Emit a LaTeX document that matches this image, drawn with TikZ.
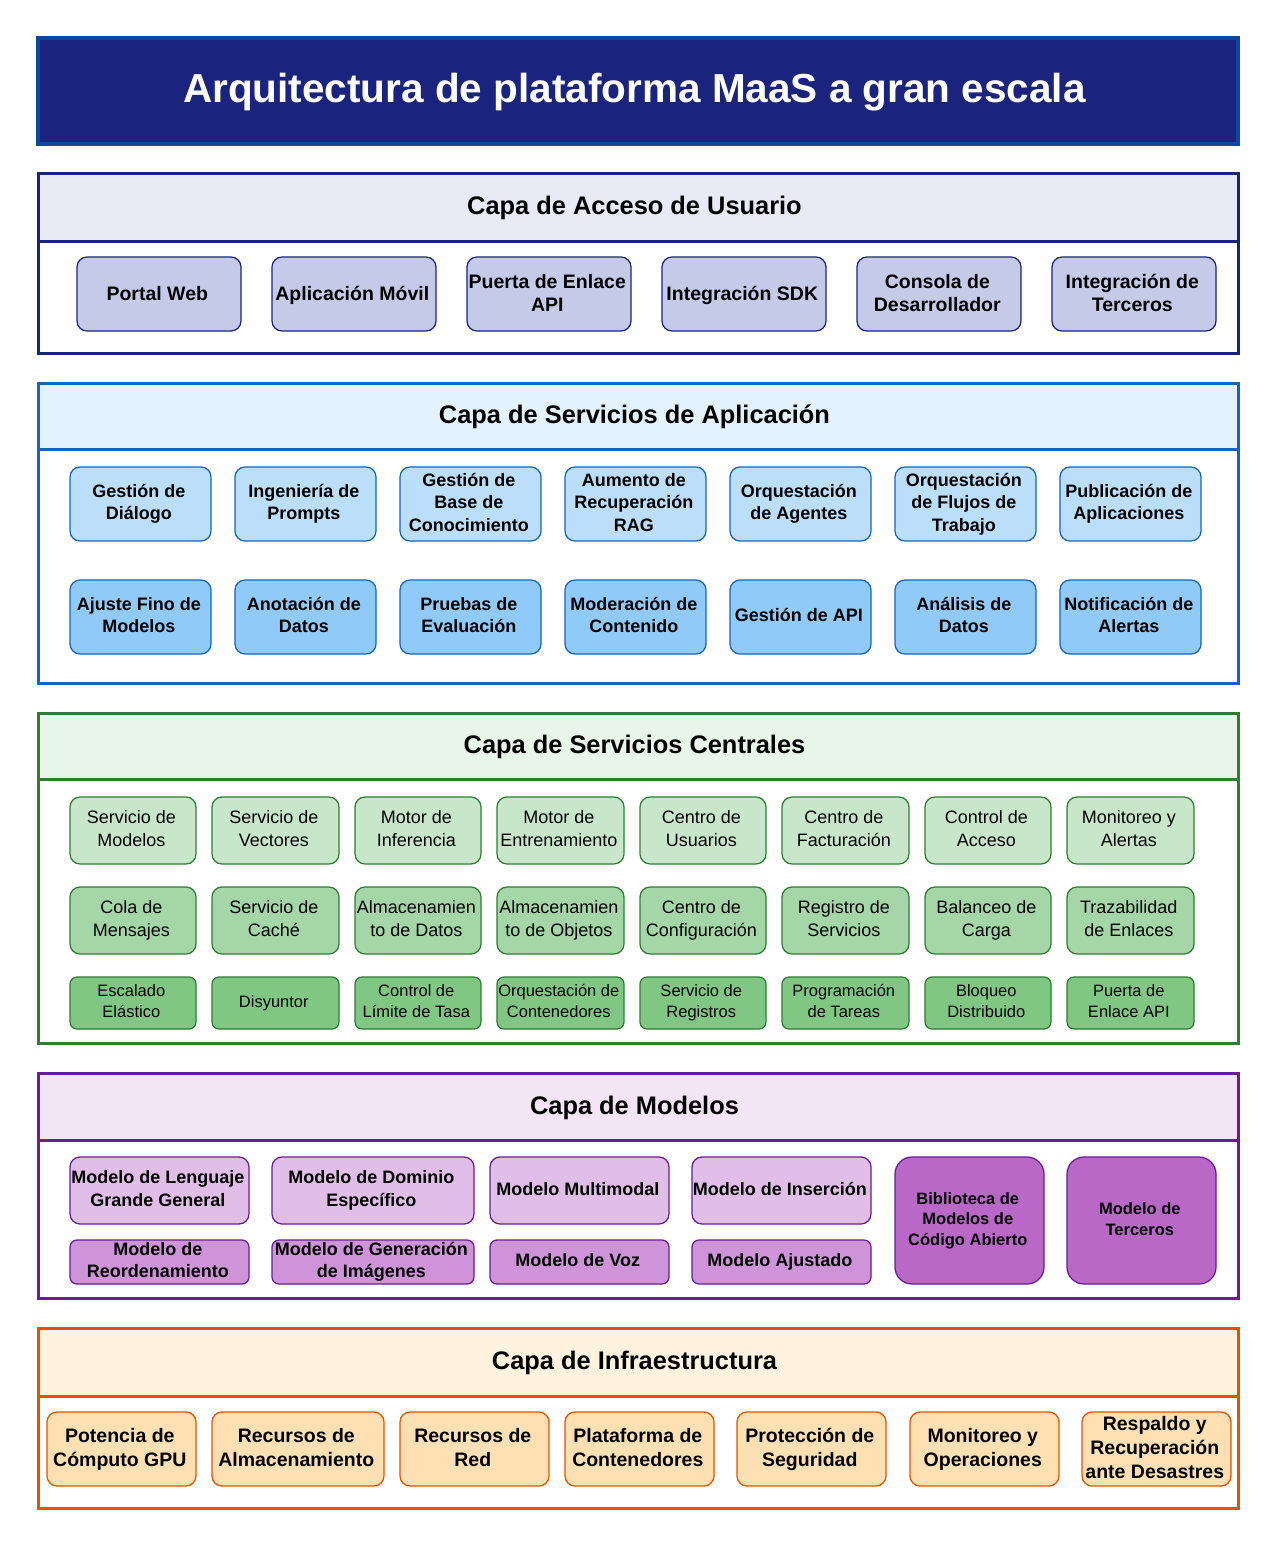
\documentclass[tikz,border=0pt]{standalone}
\usepackage{fontspec}
\setmainfont{Liberation Sans}
\definecolor{navyS}{HTML}{0D47A1}\definecolor{navyF}{HTML}{1A237E}
\definecolor{iS}{HTML}{1A237E}\definecolor{iH}{HTML}{E8EAF6}\definecolor{iA}{HTML}{C5CAE9}
\definecolor{bS}{HTML}{1565C0}\definecolor{bH}{HTML}{E3F2FD}\definecolor{bA}{HTML}{BBDEFB}\definecolor{bB}{HTML}{90CAF9}
\definecolor{gS}{HTML}{2E7D32}\definecolor{gH}{HTML}{E8F5E9}\definecolor{gA}{HTML}{C8E6C9}\definecolor{gB}{HTML}{A5D6A7}\definecolor{gC}{HTML}{81C784}
\definecolor{pS}{HTML}{6A1B9A}\definecolor{pH}{HTML}{F3E5F5}\definecolor{pA}{HTML}{E1BEE7}\definecolor{pB}{HTML}{CE93D8}\definecolor{pC}{HTML}{BA68C8}
\definecolor{oS}{HTML}{E65100}\definecolor{oH}{HTML}{FFF3E0}\definecolor{oA}{HTML}{FFE0B2}
\def\tdx{-1.7}\def\tdy{0}
\newcommand{\bx}[7]{%
  \pgfmathsetmacro{\cxv}{(#3+#5)/2}\pgfmathsetmacro{\cyv}{(#4+#6)/2}%
  \pgfmathsetmacro{\wv}{#5-#3}\pgfmathsetmacro{\hv}{#6-#4}%
  \node[#2,minimum width=\wv pt,minimum height=\hv pt] (#1) at (\cxv,\cyv) {};
  \node[#2,draw=none,fill=none,xshift=\tdx pt,yshift=\tdy pt] (#1t) at (#1.center)
    {\rule[-.21em]{0pt}{.93em}#7\rule[-.21em]{0pt}{.93em}};}
\newcommand{\hx}[7]{\def\tdx{-3.5}\def\tdy{-1}\bx{#1}{#2}{#3}{#4}{#5}{#6}{#7}\def\tdx{-1.7}\def\tdy{0}}
\tikzset{
  x=1pt,y=-1pt,
  anynode/.style={inner sep=0pt,outer sep=0pt,align=center,text=black},
  titlebox/.style={anynode,draw=navyS,fill=navyF,line width=4pt,text=white,font=\fontsize{40.5}{46}\selectfont\bfseries},
  layerbox/.style={anynode,line width=3pt,fill=white},
  headbox/.style={anynode,line width=3pt,font=\fontsize{25.4}{30}\selectfont\bfseries},
  item/.style={anynode,line width=1.25pt,rounded corners=10pt},
  strongL/.style={item,font=\fontsize{19.5}{23.3}\selectfont\bfseries},
  strongO/.style={item,font=\fontsize{19.5}{24.2}\selectfont\bfseries},
  strongM/.style={item,font=\fontsize{18}{22.4}\selectfont\bfseries},
  plain/.style={item,font=\fontsize{18}{22.3}\selectfont},
  small/.style={item,rounded corners=7pt,font=\fontsize{16.5}{21}\selectfont},
  boldsmall/.style={item,rounded corners=17pt,font=\fontsize{16.5}{20.5}\selectfont\bfseries},
  tight/.style={rounded corners=7pt},
}
\begin{document}
\begin{tikzpicture}
\useasboundingbox (0,0) rectangle (1275,1545);
\hx{title}{titlebox}{38}{38}{1238}{144}{Arquitectura de plataforma MaaS a gran escala}
% Layer 1
\bx{L1}{layerbox,draw=iS}{38}{173}{1238}{353}{}
\hx{H1}{headbox,draw=iS,fill=iH}{38}{173}{1238}{241}{Capa de Acceso de Usuario}
\begin{scope}[every node/.append style={draw=iS,fill=iA}]
\def\tdy{-1}
\bx{a1}{strongL}{77}{257}{241}{331}{Portal Web}
\bx{a2}{strongL}{272}{257}{436}{331}{Aplicación Móvil}
\bx{a3}{strongL}{467}{257}{631}{331}{Puerta de Enlace\\API}
\bx{a4}{strongL}{662}{257}{826}{331}{Integración SDK}
\bx{a5}{strongL}{857}{257}{1021}{331}{Consola de\\Desarrollador}
\bx{a6}{strongL}{1052}{257}{1216}{331}{Integración de\\Terceros}
\end{scope}
% Layer 2
\bx{L2}{layerbox,draw=bS}{38}{383}{1238}{683}{}
\hx{H2}{headbox,draw=bS,fill=bH}{38}{383}{1238}{449}{Capa de Servicios de Aplicación}
\begin{scope}[every node/.append style={draw=bS,fill=bA}]
\bx{b1}{strongM}{70}{467}{211}{541}{Gestión de\\Diálogo}
\bx{b2}{strongM}{235}{467}{376}{541}{Ingeniería de\\Prompts}
\bx{b3}{strongM}{400}{467}{541}{541}{Gestión de\\Base de\\Conocimiento}
\bx{b4}{strongM}{565}{467}{706}{541}{Aumento de\\Recuperación\\RAG}
\bx{b5}{strongM}{730}{467}{871}{541}{Orquestación\\de Agentes}
\bx{b6}{strongM}{895}{467}{1036}{541}{Orquestación\\de Flujos de\\Trabajo}
\bx{b7}{strongM}{1060}{467}{1201}{541}{Publicación de\\Aplicaciones}
\end{scope}
\begin{scope}[every node/.append style={draw=bS,fill=bB}]
\bx{c1}{strongM}{70}{580}{211}{654}{Ajuste Fino de\\Modelos}
\bx{c2}{strongM}{235}{580}{376}{654}{Anotación de\\Datos}
\bx{c3}{strongM}{400}{580}{541}{654}{Pruebas de\\Evaluación}
\bx{c4}{strongM}{565}{580}{706}{654}{Moderación de\\Contenido}
\bx{c5}{strongM}{730}{580}{871}{654}{Gestión de API}
\bx{c6}{strongM}{895}{580}{1036}{654}{Análisis de\\Datos}
\bx{c7}{strongM}{1060}{580}{1201}{654}{Notificación de\\Alertas}
\end{scope}
% Layer 3
\bx{L3}{layerbox,draw=gS}{38}{713}{1238}{1043}{}
\hx{H3}{headbox,draw=gS,fill=gH}{38}{713}{1238}{779}{Capa de Servicios Centrales}
\begin{scope}[every node/.append style={draw=gS,fill=gA}]
\bx{d1}{plain}{70}{797}{196}{864}{Servicio de\\Modelos}
\bx{d2}{plain}{212}{797}{339}{864}{Servicio de\\Vectores}
\bx{d3}{plain}{355}{797}{481}{864}{Motor de\\Inferencia}
\bx{d4}{plain}{497}{797}{624}{864}{Motor de\\Entrenamiento}
\bx{d5}{plain}{640}{797}{766}{864}{Centro de\\Usuarios}
\bx{d6}{plain}{782}{797}{909}{864}{Centro de\\Facturación}
\bx{d7}{plain}{925}{797}{1051}{864}{Control de\\Acceso}
\bx{d8}{plain}{1067}{797}{1194}{864}{Monitoreo y\\Alertas}
\end{scope}
\begin{scope}[every node/.append style={draw=gS,fill=gB}]
\bx{e1}{plain}{70}{887}{196}{954}{Cola de\\Mensajes}
\bx{e2}{plain}{212}{887}{339}{954}{Servicio de\\Caché}
\bx{e3}{plain}{355}{887}{481}{954}{Almacenamien\\to de Datos}
\bx{e4}{plain}{497}{887}{624}{954}{Almacenamien\\to de Objetos}
\bx{e5}{plain}{640}{887}{766}{954}{Centro de\\Configuración}
\bx{e6}{plain}{782}{887}{909}{954}{Registro de\\Servicios}
\bx{e7}{plain}{925}{887}{1051}{954}{Balanceo de\\Carga}
\bx{e8}{plain}{1067}{887}{1194}{954}{Trazabilidad\\de Enlaces}
\end{scope}
\begin{scope}[every node/.append style={draw=gS,fill=gC}]
\bx{f1}{small}{70}{977}{196}{1029}{Escalado\\Elástico}
\bx{f2}{small}{212}{977}{339}{1029}{Disyuntor}
\bx{f3}{small}{355}{977}{481}{1029}{Control de\\Límite de Tasa}
\bx{f4}{small}{497}{977}{624}{1029}{Orquestación de\\Contenedores}
\bx{f5}{small}{640}{977}{766}{1029}{Servicio de\\Registros}
\bx{f6}{small}{782}{977}{909}{1029}{Programación\\de Tareas}
\bx{f7}{small}{925}{977}{1051}{1029}{Bloqueo\\Distribuido}
\bx{f8}{small}{1067}{977}{1194}{1029}{Puerta de\\Enlace API}
\end{scope}
% Layer 4
\bx{L4}{layerbox,draw=pS}{38}{1073}{1238}{1298}{}
\hx{H4}{headbox,draw=pS,fill=pH}{38}{1073}{1238}{1140}{Capa de Modelos}
\begin{scope}[every node/.append style={draw=pS,fill=pA}]
\bx{g1}{strongM}{70}{1157}{249}{1224}{Modelo de Lenguaje\\Grande General}
\bx{g2}{strongM}{272}{1157}{474}{1224}{Modelo de Dominio\\Específico}
\bx{g3}{strongM}{490}{1157}{669}{1224}{Modelo Multimodal}
\bx{g4}{strongM}{692}{1157}{871}{1224}{Modelo de Inserción}
\end{scope}
\begin{scope}[every node/.append style={draw=pS,fill=pB}]
\bx{h1}{strongM,tight}{70}{1240}{249}{1284}{Modelo de\\Reordenamiento}
\bx{h2}{strongM,tight}{272}{1240}{474}{1284}{Modelo de Generación\\de Imágenes}
\bx{h3}{strongM,tight}{490}{1240}{669}{1284}{Modelo de Voz}
\bx{h4}{strongM,tight}{692}{1240}{871}{1284}{Modelo Ajustado}
\end{scope}
\begin{scope}[every node/.append style={draw=pS,fill=pC}]
\bx{k1}{boldsmall}{895}{1157}{1044}{1284}{Biblioteca de\\Modelos de\\Código Abierto}
\bx{k2}{boldsmall}{1067}{1157}{1216}{1284}{Modelo de\\Terceros}
\end{scope}
% Layer 5
\bx{L5}{layerbox,draw=oS}{38}{1328}{1238}{1508}{}
\hx{H5}{headbox,draw=oS,fill=oH}{38}{1328}{1238}{1396}{Capa de Infraestructura}
\begin{scope}[every node/.append style={draw=oS,fill=oA}]
\def\tdy{-0.6}
\bx{m1}{strongO}{47}{1412}{196}{1486}{Potencia de\\Cómputo GPU}
\bx{m2}{strongO}{212}{1412}{384}{1486}{Recursos de\\Almacenamiento}
\bx{m3}{strongO}{400}{1412}{549}{1486}{Recursos de\\Red}
\bx{m4}{strongO}{565}{1412}{714}{1486}{Plataforma de\\Contenedores}
\bx{m5}{strongO}{737}{1412}{886}{1486}{Protección de\\Seguridad}
\bx{m6}{strongO}{910}{1412}{1059}{1486}{Monitoreo y\\Operaciones}
\bx{m7}{strongO}{1082}{1412}{1231}{1486}{Respaldo y\\Recuperación\\ante Desastres}
\end{scope}
\end{tikzpicture}
\end{document}
